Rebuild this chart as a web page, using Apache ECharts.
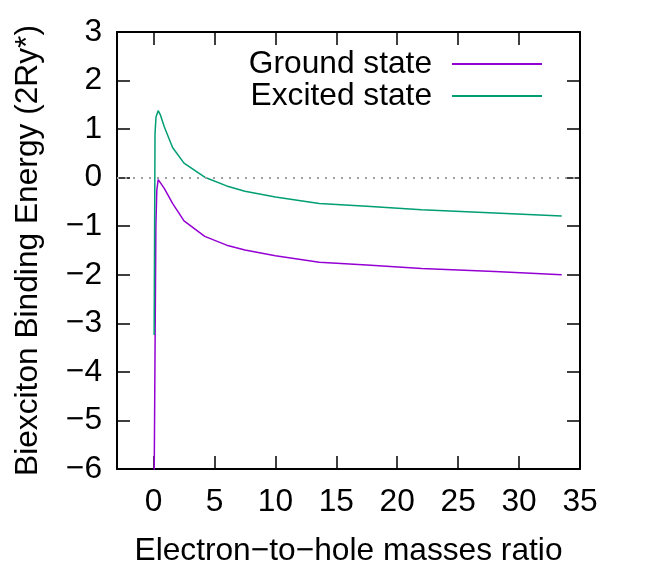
<!DOCTYPE html>
<html>
<head>
<meta charset="utf-8">
<script src="https://cdn.jsdelivr.net/npm/echarts@6/dist/echarts.min.js"></script>
<style>
html, body { margin: 0; padding: 0; background: #fff; }
#main { width: 654px; height: 572px; }
</style>
</head>
<body>
<div id="main"></div>
<script>
// values
var groundRatio = [0.03, 0.19, 0.27, 0.38, 0.52, 0.88, 1.56, 2.5, 4.2, 6, 7.5, 10, 13.6, 17.5, 22, 28, 33.5];
var groundState = [-7, -1.0, -0.25, -0.04, 0, -0.22, -0.53, -0.89, -1.21, -1.39, -1.49, -1.61, -1.74, -1.8, -1.87, -1.93, -2.0];
var excitedRatio = [0.05, 0.12, 0.2, 0.38, 0.55, 0.88, 1.56, 2.5, 4.2, 6, 7.5, 10, 13.6, 17.5, 22, 28, 33.5];
var excitedState = [-3.24, 0.9, 1.25, 1.38, 1.3, 1.05, 0.62, 0.30, 0.01, -0.17, -0.28, -0.40, -0.53, -0.59, -0.66, -0.73, -0.79];
var xTicks = [0, 5, 10, 15, 20, 25, 30, 35];

function pairs(xs, ys) {
    var out = [];
    for (var i = 0; i < xs.length; i++) out.push([xs[i], ys[i]]);
    return out;
}

var font = 'Liberation Sans';
var fs = 31.7;

var myChart = echarts.init(document.getElementById('main'));

var xBase = {
    type: 'value',
    min: -3,
    max: 35,
    splitLine: { show: false },
    axisLine: { show: true, onZero: false, lineStyle: { color: '#000', width: 2 } },
    axisTick: { show: true, inside: true, length: 13, customValues: xTicks, lineStyle: { color: '#000', width: 1.5 } }
};
var yBase = {
    type: 'value',
    min: -6,
    max: 3,
    interval: 1,
    splitLine: { show: false },
    axisLine: { show: true, onZero: false, lineStyle: { color: '#000', width: 2 } },
    axisTick: { show: true, inside: true, length: 13, lineStyle: { color: '#000', width: 1.5 } }
};

option = {
    animation: false,
    grid: { left: 117, right: 74, top: 32, bottom: 103 },
    legend: {
        orient: 'vertical',
        right: 107,
        top: 43,
        align: 'right',
        icon: 'rect',
        itemWidth: 90,
        itemHeight: 2,
        itemGap: 0,
        textStyle: {
            fontFamily: font, fontSize: fs, color: '#000', lineHeight: 31,
            width: 195, align: 'right', padding: [0, 15, 0, 0]
        },
        data: ['Ground state', 'Excited state']
    },
    xAxis: [
        Object.assign({}, xBase, {
            position: 'bottom',
            name: 'Electron\u2212to\u2212hole masses ratio',
            nameLocation: 'middle',
            nameGap: 66,
            nameTextStyle: { fontFamily: font, fontSize: fs, color: '#000' },
            axisLabel: { show: true, customValues: xTicks, margin: 17, fontFamily: font, fontSize: fs, color: '#000' }
        }),
        Object.assign({}, xBase, { position: 'top', axisLabel: { show: false } })
    ],
    yAxis: [
        Object.assign({}, yBase, {
            position: 'left',
            name: 'Biexciton Binding Energy (2Ry*)',
            nameLocation: 'middle',
            nameGap: 73,
            nameTextStyle: { fontFamily: font, fontSize: fs, color: '#000' },
            axisLabel: {
                margin: 15, fontFamily: font, fontSize: fs, color: '#000',
                formatter: function (v) { return v < 0 ? '\u2212' + Math.abs(v) : String(v); }
            }
        }),
        Object.assign({}, yBase, { position: 'right', axisLabel: { show: false } })
    ],
    series: [{
        name: 'Ground state',
        type: 'line',
        symbol: 'none',
        clip: true,
        lineStyle: { color: '#9400d3', width: 1.5 },
        itemStyle: { color: '#9400d3' },
        data: pairs(groundRatio, groundState),
        markLine: {
            silent: true,
            symbol: 'none',
            label: { show: false },
            lineStyle: { color: '#a0a0a0', type: [2, 6], width: 2 },
            data: [{ yAxis: 0 }]
        },
        z: 3
    }, {
        name: 'Excited state',
        type: 'line',
        symbol: 'none',
        clip: true,
        lineStyle: { color: '#009e73', width: 1.5 },
        itemStyle: { color: '#009e73' },
        data: pairs(excitedRatio, excitedState),
        z: 3
    }]
};
myChart.setOption(option);
</script>
</body>
</html>
